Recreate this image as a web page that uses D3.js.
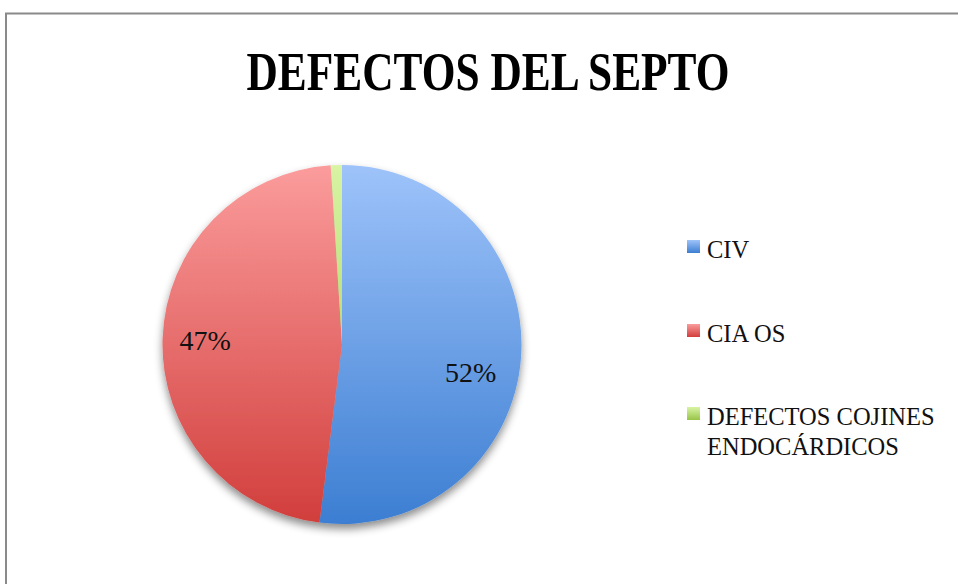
<!DOCTYPE html>
<html><head><meta charset="utf-8">
<script src="https://cdn.jsdelivr.net/npm/d3@7"></script>
<style>html,body{margin:0;padding:0;background:#fff;}</style>
</head><body>
<svg id="c" width="958" height="584"></svg>
<script>
const categories = ["CIV", "CIA OS", "DEFECTOS COJINES ENDOCÁRDICOS"];
const values = [52, 47, 1];
const labels = ["52%", "47%", ""];
const legendLines = [["CIV"], ["CIA OS"], ["DEFECTOS COJINES", "ENDOCÁRDICOS"]];
const title = "DEFECTOS DEL SEPTO";

const svg = d3.select("#c");
const cx = 342, cy = 344.5, R = 179.5;

svg.append("rect").attr("x", 6).attr("y", 13.5).attr("width", 980).attr("height", 600)
  .attr("fill", "#fff").attr("stroke", "#8a8a8a").attr("stroke-width", 2);

const defs = svg.append("defs");
const f = defs.append("filter").attr("id", "sh").attr("x", "-20%").attr("y", "-20%").attr("width", "140%").attr("height", "140%");
f.append("feDropShadow").attr("dx", 0).attr("dy", 5).attr("stdDeviation", 4).attr("flood-color", "#000").attr("flood-opacity", 0.45);

const grads = [["#9ec3fa", "#3c7ed2"], ["#fb9c9c", "#d13e3c"], ["#d8f4a4", "#98c448"]];
grads.forEach((gc, i) => {
  const lg = defs.append("linearGradient").attr("id", "g" + i).attr("gradientUnits", "userSpaceOnUse")
    .attr("x1", 0).attr("y1", -R).attr("x2", 0).attr("y2", R);
  lg.append("stop").attr("offset", "0%").attr("stop-color", gc[0]);
  lg.append("stop").attr("offset", "100%").attr("stop-color", gc[1]);
  const lg2 = defs.append("linearGradient").attr("id", "lg" + i).attr("x1", 0).attr("y1", 0).attr("x2", 0).attr("y2", 1);
  lg2.append("stop").attr("offset", "0%").attr("stop-color", gc[0]);
  lg2.append("stop").attr("offset", "100%").attr("stop-color", gc[1]);
});

svg.append("text").attr("x", 488).attr("y", 90).attr("text-anchor", "middle")
  .attr("font-family", "'Liberation Serif',serif").attr("font-weight", "bold")
  .attr("font-size", 55).attr("textLength", 483).attr("lengthAdjust", "spacingAndGlyphs")
  .attr("fill", "#000").text(title);

const pie = d3.pie().sort(null).value(d => d);
const arcs = pie(values);
const arc = d3.arc().innerRadius(0).outerRadius(R);
const g = svg.append("g").attr("transform", `translate(${cx},${cy})`);
g.append("g").attr("filter", "url(#sh)")
  .selectAll("path").data(arcs).join("path")
  .attr("d", arc)
  .attr("fill", (d, i) => "url(#g" + i + ")");

const labArc = d3.arc().innerRadius(137).outerRadius(137);
const labelNudge = [[-8, 20], [0, 1], [0, 0]];
g.selectAll("text.lab").data(arcs).join("text").attr("class", "lab")
  .attr("x", (d, i) => labArc.centroid(d)[0] + labelNudge[i][0])
  .attr("y", (d, i) => labArc.centroid(d)[1] + labelNudge[i][1] + 9)
  .attr("text-anchor", "middle")
  .attr("font-family", "'Liberation Serif',serif").attr("font-size", 28).attr("fill", "#111")
  .text((d, i) => labels[i]);

const leg = svg.append("g");
const legY = [258, 342, 425];
legendLines.forEach((lines, i) => {
  leg.append("rect").attr("x", 687).attr("y", legY[i] - 18).attr("width", 13).attr("height", 13)
    .attr("fill", "url(#lg" + i + ")");
  const t = leg.append("text").attr("font-family", "'Liberation Serif',serif").attr("font-size", 24.5).attr("fill", "#111");
  lines.forEach((l, j) => {
    t.append("tspan").attr("x", 707).attr("y", legY[i] + j * 30).text(l);
  });
});
</script>
</body></html>
